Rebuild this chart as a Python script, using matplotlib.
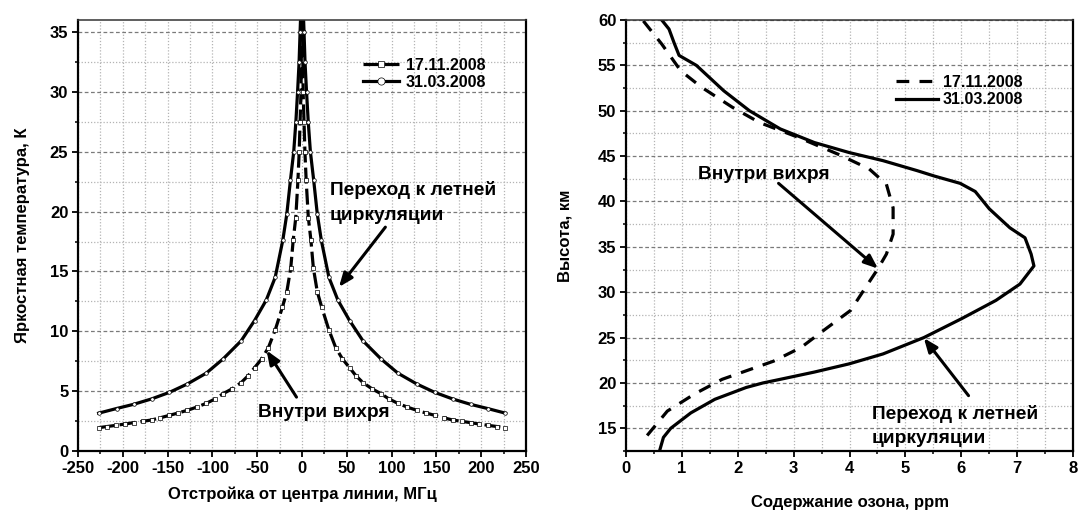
import numpy as np
import matplotlib
matplotlib.use('Agg')
import matplotlib.pyplot as plt
from matplotlib.ticker import MultipleLocator

plt.rcParams['font.family'] = ['Liberation Sans', 'DejaVu Sans']
plt.rcParams['font.weight'] = 'bold'
plt.rcParams['axes.unicode_minus'] = False

# left panel: brightness temperature spectra (MHz offset, K)
freq_nov = [-227, -218, -208, -198, -188, -178, -168, -158, -148, -138, -128, -117, -107, -97, -88,
            -78, -68, -60, -53, -45, -37.6, -30, -22, -17, -12.6, -9.9, -7, -4.6, -3.2, -2.2, -1.2,
            -0.6, 0, 0.6, 1.2, 2.2, 3.2, 4.6, 7, 9.9, 12.6, 17, 22, 30, 37.6, 45, 53, 60, 68, 78,
            88, 97, 107, 117, 128, 138, 148, 158, 168, 178, 188, 198, 208, 218, 227]
temp_nov = [1.95, 2.04, 2.14, 2.25, 2.37, 2.48, 2.59, 2.78, 2.98, 3.18, 3.4, 3.68, 3.98, 4.35, 4.79,
            5.2, 5.71, 6.3, 6.96, 7.7, 8.63, 10.1, 12.0, 13.3, 15.3, 17.6, 19.5, 22.6, 25, 27.5, 30,
            35, 40, 35, 30, 27.5, 25, 22.6, 19.5, 17.6, 15.3, 13.3, 12.0, 10.1, 8.63, 7.7, 6.96, 6.3,
            5.71, 5.2, 4.79, 4.35, 3.98, 3.68, 3.4, 3.18, 2.98, 2.78, 2.59, 2.48, 2.37, 2.25, 2.14,
            2.04, 1.95]

freq_mar = [-227, -207, -188, -168, -148, -128, -107, -88, -68, -53, -40, -30, -21.5, -17, -13,
            -9.3, -6.9, -5, -3.3, -2.2, -1, 0, 1, 2.2, 3.3, 5, 6.9, 9.3, 13, 17, 21.5, 30, 40, 53,
            68, 88, 107, 128, 148, 168, 188, 207, 227]
temp_mar = [3.16, 3.55, 3.9, 4.35, 4.9, 5.6, 6.5, 7.7, 9.2, 10.9, 12.6, 14.5, 17.6, 19.8, 22.6,
            25, 27.5, 30, 32.5, 35, 37.5, 40, 37.5, 35, 32.5, 30, 27.5, 25, 22.6, 19.8, 17.6, 14.5,
            12.6, 10.9, 9.2, 7.7, 6.5, 5.6, 4.9, 4.35, 3.9, 3.55, 3.16]

# right panel: ozone profiles (ppm vs km)
ozone_nov = [0.31, 0.64, 0.98, 1.35, 1.9, 2.39, 3.07, 3.8, 4.35, 4.66, 4.78, 4.78, 4.66, 4.51,
             4.29, 4.02, 3.56, 3.13, 2.64, 1.72, 1.23, 0.74, 0.37]
alt_nov = [59.9, 57.35, 54.4, 52.6, 50.4, 48.7, 47.1, 45.2, 43.6, 41.9, 39.3, 36.4, 34.2, 32.6,
           30.55, 28, 25.9, 23.9, 22.4, 20.4, 18.8, 16.9, 14.15]

ozone_mar = [0.64, 0.77, 0.86, 0.95, 1.26, 1.75, 2.21, 2.76, 3.37, 3.99, 4.6, 5.21, 5.52, 5.98,
             6.25, 6.5, 6.87, 7.14, 7.25, 7.3, 7.05, 6.62, 6.01, 5.33, 4.6, 3.99, 3.37, 2.76, 2.45,
             2.15, 1.59, 1.16, 0.8, 0.67, 0.6]
alt_mar = [60, 59, 57.5, 56.1, 55, 52.2, 50, 48, 46.5, 45.4, 44.5, 43.4, 42.8, 42, 41.1, 39.2,
           37.1, 36, 34.2, 32.9, 30.9, 29.1, 27.1, 25, 23.2, 22.1, 21.2, 20.4, 20, 19.5, 18.2,
           16.7, 15.0, 14, 12.5]

label_nov = '17.11.2008'
label_mar = '31.03.2008'
label_vortex = 'Внутри вихря'
label_summer = ['Переход к летней', 'циркуляции']


def style_axes(ax, xmaj, xmin, ymaj, ymin):
    ax.xaxis.set_major_locator(MultipleLocator(xmaj))
    ax.xaxis.set_minor_locator(MultipleLocator(xmin))
    ax.yaxis.set_major_locator(MultipleLocator(ymaj))
    ax.yaxis.set_minor_locator(MultipleLocator(ymin))
    # vertical grid: light dots everywhere
    ax.grid(True, which='both', axis='x', color='#b4b4b4', lw=0.9, linestyle=(0, (1, 1.5)))
    ax.grid(True, which='major', axis='y', color='#7a7a7a', lw=0.9, linestyle=(0, (3, 2)))
    ax.grid(True, which='minor', axis='y', color='#b4b4b4', lw=0.9, linestyle=(0, (1, 1.5)))
    ax.set_axisbelow(True)
    ax.tick_params(which='major', direction='out', length=4, width=1.3, labelsize=12, pad=3)
    ax.tick_params(which='minor', direction='out', length=2.5, width=1.1)
    for side in ['left', 'bottom', 'right']:
        ax.spines[side].set_linewidth(1.6)
    ax.spines['top'].set_linewidth(1.1)
    ax.spines['top'].set_color('#333333')


fig = plt.figure(figsize=(10.78, 5.11), dpi=100)
ax1 = fig.add_axes([0.0724, 0.1174, 0.4156, 0.8434])
ax2 = fig.add_axes([0.5807, 0.1174, 0.4147, 0.8434])

# ---- left panel
ax1.plot(freq_nov, temp_nov, color='k', lw=2.3, dashes=(5, 1.6), marker='s', ms=2.4,
         mfc='white', mec='k', mew=0.5, label=label_nov)
ax1.plot(freq_mar, temp_mar, color='k', lw=2.3, marker='o', ms=2.6,
         mfc='white', mec='k', mew=0.5, label=label_mar)
ax1.set_xlim(-250, 250)
ax1.set_ylim(0, 36)
style_axes(ax1, 50, 25, 5, 2.5)
ax1.set_xlabel('Отстройка от центра линии, МГц', fontsize=12, fontweight='bold', labelpad=8)
ax1.set_ylabel('Яркостная температура, К', fontsize=12, fontweight='bold', labelpad=14)
ax1.legend(loc='upper left', bbox_to_anchor=(0.635, 0.913), frameon=False, fontsize=11.5,
           handlelength=2.3, handletextpad=0.4, labelspacing=0.15, borderpad=0,
           borderaxespad=0, markerscale=2.0)

arrow = dict(arrowstyle='-|>,head_length=0.75,head_width=0.3', lw=2.2, color='k',
             mutation_scale=11, shrinkA=0, shrinkB=0)
ax1.annotate('', xy=(41.2, 13.7), xytext=(93, 18.7), arrowprops=arrow)
ax1.annotate('', xy=(-39.6, 8.4), xytext=(-6.2, 4.5), arrowprops=arrow)
ax1.text(31, 21.4, label_summer[0], fontsize=13.8, fontweight='bold', va='baseline')
ax1.text(31, 19.3, label_summer[1], fontsize=13.8, fontweight='bold', va='baseline')
ax1.text(-49, 2.8, label_vortex, fontsize=13.8, fontweight='bold', va='baseline')

# ---- right panel
ax2.plot(ozone_nov, alt_nov, color='k', lw=2.3, dashes=(4, 3.2), label=label_nov)
ax2.plot(ozone_mar, alt_mar, color='k', lw=2.3, label=label_mar)
ax2.set_xlim(0, 8)
ax2.set_ylim(12.5, 60)
style_axes(ax2, 1, 0.5, 5, 2.5)
ax2.set_xlabel('Содержание озона, ppm', fontsize=12, fontweight='bold', labelpad=14)
ax2.set_ylabel('Высота, км', fontsize=12, fontweight='bold', labelpad=18)
ax2.legend(loc='upper left', bbox_to_anchor=(0.605, 0.873), frameon=False, fontsize=11.5,
           handlelength=2.6, handletextpad=0.3, labelspacing=0.15, borderpad=0,
           borderaxespad=0)

ax2.annotate('', xy=(4.51, 32.6), xytext=(2.73, 42.0), arrowprops=arrow)
ax2.annotate('', xy=(5.33, 24.95), xytext=(6.13, 18.6), arrowprops=arrow)
ax2.text(1.29, 42.5, label_vortex, fontsize=13.8, fontweight='bold', va='baseline')
ax2.text(4.4, 16.0, label_summer[0], fontsize=13.8, fontweight='bold', va='baseline')
ax2.text(4.4, 13.4, label_summer[1], fontsize=13.8, fontweight='bold', va='baseline')

fig.savefig('out.png', dpi=100)
